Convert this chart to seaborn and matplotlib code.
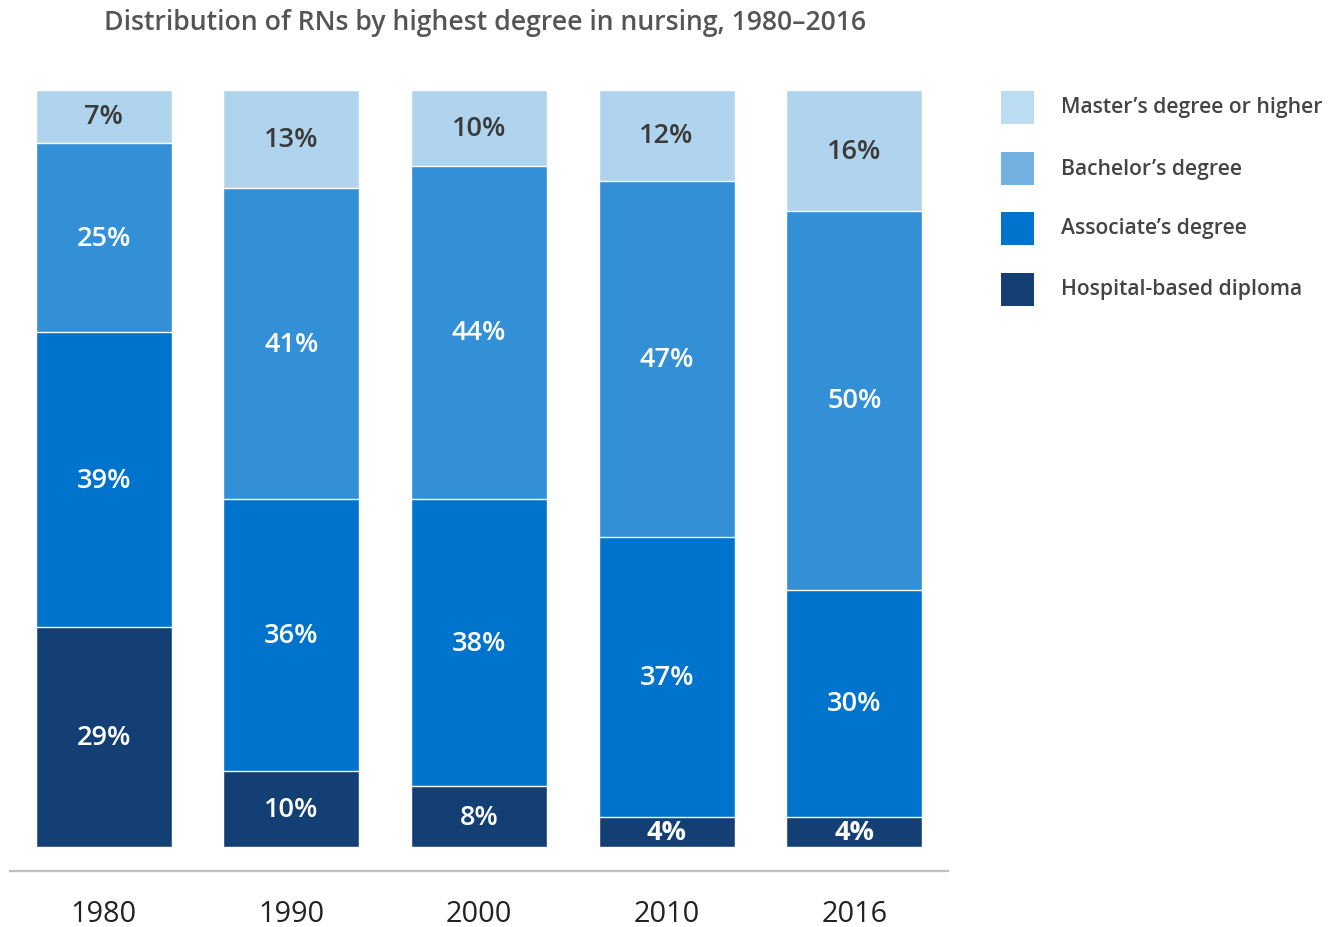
import matplotlib
matplotlib.use("Agg")
import matplotlib.pyplot as plt
import seaborn as sns
import pandas as pd
import numpy as np
from matplotlib.patches import Rectangle

years = ["1980", "1990", "2000", "2010", "2016"]
diploma = [29, 10, 8, 4, 4]
associate = [39, 36, 38, 37, 30]
bachelor = [25, 41, 44, 47, 50]
master = [7, 13, 10, 12, 16]

series_names = ["Hospital-based diploma", "Associate\u2019s degree",
                "Bachelor\u2019s degree", "Master\u2019s degree or higher"]
series_vals = [diploma, associate, bachelor, master]
bar_colors = ["#143f75", "#0073cd", "#3490d6", "#b0d4ee"]
legend_colors = ["#143f75", "#0073cd", "#72b1e2", "#bcdcf3"]
label_colors = ["white", "white", "white", "#3a3a3a"]

sns.set_theme(style="white")
plt.rcParams["font.family"] = ["Open Sans", "DejaVu Sans"]

W, H = 1339, 928
fig = plt.figure(figsize=(W / 100, H / 100), dpi=100)
left, right, top, bottom = 10, 948, 91, 872
ax = fig.add_axes([left / W, 1 - bottom / H, (right - left) / W, (bottom - top) / H])

cum = np.zeros(len(years))
cums = []
for vals in series_vals:
    cum = cum + np.array(vals)
    cums.append(cum.copy())

for i in range(3, -1, -1):
    d = pd.DataFrame({"year": years, "v": cums[i]})
    sns.barplot(data=d, x="year", y="v", color=bar_colors[i], width=0.725,
                edgecolor="white", linewidth=1.0, saturation=1, ax=ax, errorbar=None)

ax.set_xlim(-0.5, 4.5)
ax.set_ylim(-3.17, 100)

for i, vals in enumerate(series_vals):
    base = cums[i] - np.array(vals)
    for j, v in enumerate(vals):
        weight = "bold" if v <= 4 else "semibold"
        ax.text(j, base[j] + v / 2, f"{v}%", ha="center", va="center",
                color=label_colors[i], fontsize=19.5, fontweight=weight)

ax.set_xlabel("")
ax.set_ylabel("")
ax.set_yticks([])
for s in ["top", "right", "left"]:
    ax.spines[s].set_visible(False)
ax.spines["bottom"].set_color("#bfbfbf")
ax.spines["bottom"].set_linewidth(1.6)
ax.tick_params(axis="x", length=0, pad=20, labelsize=20.8, labelcolor="#222222")

fig.text(485 / W, 1 - 23 / H, "Distribution of RNs by highest degree in nursing, 1980\u20132016",
         ha="center", va="center", fontsize=19.2, fontweight="semibold", color="#555555")

rows = [108, 169, 229, 290]
order = [3, 2, 1, 0]
for r, i in zip(rows, order):
    fig.add_artist(Rectangle((1001 / W, 1 - (r + 16.5) / H), 33 / W, 33 / H,
                             transform=fig.transFigure, color=legend_colors[i], lw=0))
    fig.text(1061 / W, 1 - r / H, series_names[i], ha="left", va="center",
             fontsize=15.2, fontweight="semibold", color="#444444")

fig.savefig("out.png", dpi=100)
